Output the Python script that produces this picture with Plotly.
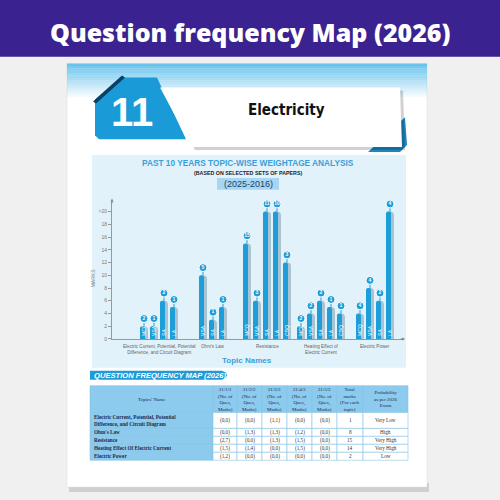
import plotly.graph_objects as go

# ---------------- data ----------------
topics = ["Electric Current, Potential, Potential<br>Difference, and Circuit Diagram",
          "Ohm's Law", "Resistance", "Heating Effect of<br>Electric Current", "Electric Power"]
bar_types = [["MCQ", "VSA", "SA", "LA"],
             ["VSA", "SA", "LA"],
             ["MCQ", "VSA", "SA", "LA", "CBQ"],
             ["MCQ", "VSA", "SA", "LA", "CBQ"],
             ["MCQ", "VSA", "SA", "LA"]]
bar_marks = [[2, 2, 6, 5],
             [10, 3, 5],
             [15, 6, 20, 20, 12],
             [2, 4, 6, 5, 4],
             [4, 8, 6, 20]]
bar_counts = [[2, 1, 2, 1],
              [5, 1, 1],
              [15, 3, 11, 10, 3],
              [2, 2, 2, 1, 1],
              [4, 4, 2, 4]]
y_tick_vals = [0, 2, 4, 6, 8, 10, 12, 14, 16, 18, 20]
y_tick_text = ["0", "2", "4", "6", "8", "10", "12", "14", "16", "18", ">20"]

table_header = ["Topics' Name",
                "31/1/1<br>(No. of<br>Ques,<br>Marks)",
                "31/2/2<br>(No. of<br>Ques,<br>Marks)",
                "31/3/3<br>(No. of<br>Ques,<br>Marks)",
                "31/4/3<br>(No. of<br>Ques,<br>Marks)",
                "31/5/2<br>(No. of<br>Ques,<br>Marks)",
                "Total<br>marks<br>(For each<br>topic)",
                "Probability<br>as per 2026<br>Exam"]
table_topics = ["Electric Current, Potential, Potential<br>Difference, and Circuit Diagram",
                "Ohm's Law", "Resistance", "Heating Effect Of Electric Current", "Electric Power"]
table_papers = [["(0,0)", "(0,0)", "(1,1)", "(0,0)", "(0,0)"],
                ["(0,0)", "(1,3)", "(1,3)", "(1,2)", "(0,0)"],
                ["(2,7)", "(0,0)", "(1,3)", "(1,5)", "(0,0)"],
                ["(1,5)", "(1,4)", "(0,0)", "(1,5)", "(0,0)"],
                ["(1,2)", "(0,0)", "(0,0)", "(0,0)", "(0,0)"]]
table_totals = ["1", "8", "15", "14", "2"]
table_prob = ["Very Low", "High", "Very High", "Very High", "Low"]

# ---------------- layout constants ----------------
GROUP_X0 = [3.2, 9.1, 13.5, 18.9, 24.8]
BAR_STEP = 1.0
BLUE = "#1d9ed9"
GRAYBLUE = "#a9c3d2"


def px(x):
    return x / 500


def py(y):
    return 1 - y / 500


def poly(points):
    return "M " + " L ".join(f"{px(x):.4f},{py(y):.4f}" for x, y in points) + " Z"


shapes = []
ann = []


def rect(x0, y0, x1, y1, fill, line=None, lw=0, layer="below"):
    shapes.append(dict(type="rect", xref="paper", yref="paper", x0=px(x0), x1=px(x1),
                       y0=py(y1), y1=py(y0), fillcolor=fill,
                       line=dict(color=line or fill, width=lw), layer=layer))


def path(points, fill, line=None, lw=0, layer="below"):
    shapes.append(dict(type="path", xref="paper", yref="paper", path=poly(points),
                       fillcolor=fill, line=dict(color=line or fill, width=lw), layer=layer))


def text(x, y, s, size, color, family="Liberation Sans, Arial", weight="normal",
         xanchor="center", yanchor="middle", angle=0, style="normal", align="center"):
    ann.append(dict(x=px(x), y=py(y), xref="paper", yref="paper", text=s, showarrow=False,
                    xanchor=xanchor, yanchor=yanchor, textangle=angle, align=align,
                    font=dict(size=size, color=color, family=family, weight=weight, style=style)))


# header band
rect(0, 0, 500, 57, "#3a2290")
text(250, 32, "Question frequency Map (2026)", 25, "white", family="Open Sans, Lato, Arial", weight=800)

# page
rect(69, 486, 429, 495, "#cfcfcf")
rect(67, 64, 427, 490, "white", line="#dcdcdc", lw=0.5)
n = 14
for i in range(n):
    a = 0.85 * (1 - i / n)
    rect(67, 64 + i * 2.4, 427, 64 + (i + 1) * 2.4, f"rgba(80,185,234,{a:.3f})")

# banner
path([(95, 100), (120, 78), (157, 78), (186, 140), (99, 140), (95, 136)], "#1a9ad6")
path([(93, 102), (122, 76), (125, 78), (96, 104)], "#0d3e63")
path([(368, 153), (405, 118), (407, 146), (400, 153)], "#1b86bf")
path([(163, 91), (403, 91), (405, 151), (195, 151)], "rgba(0,0,0,0.18)")
path([(160, 88), (400, 88), (402, 148), (192, 148)], "white")
text(132, 113, "11", 40, "white", weight="bold")
text(286, 111, "Electricity", 15, "#111111",
     family="Liberation Sans Narrow, DejaVu Sans Condensed, Arial Narrow", weight="bold")

# chart panel
rect(92, 156, 406, 370, "#e2f2fb")
text(248, 164, "PAST 10 YEARS TOPIC-WISE WEIGHTAGE ANALYSIS", 8.3, "#3a9fd8", weight="bold")
text(248, 174, "(BASED ON SELECTED SETS OF PAPERS)", 5.3, "#222222", weight="bold")
rect(217, 179, 279, 191, "#a6d6f1")
text(248, 185.5, "(2025-2016)", 9, "#1d3f6b")
text(93, 280, "MARKS", 5, "#777777", angle=-90)
text(247, 363, "Topic Names", 8, "#3a9fd8", weight="bold")

# question frequency map label
path([(90, 373), (222, 373), (226, 375), (227, 377.5), (226, 380), (222, 382), (90, 382)], "#1f9ad6")
text(92, 378, "QUESTION FREQUENCY MAP (2026)", 7.6, "white", weight="bold", style="italic", xanchor="left")

# table
col_edges = [90, 213, 237, 262, 287, 312, 337, 363, 408]
row_edges = [388, 415, 431, 439, 447, 455, 463]
HEAD = "#8ccbee"
for r in range(len(row_edges) - 1):
    for c in range(len(col_edges) - 1):
        fill = HEAD if (r == 0 or c == 0) else "white"
        rect(col_edges[c], row_edges[r], col_edges[c + 1], row_edges[r + 1], fill, line="#86c2e4", lw=0.6)
SERIF = "Liberation Serif, Times New Roman, serif"
for c, h in enumerate(table_header):
    text((col_edges[c] + col_edges[c + 1]) / 2, (row_edges[0] + row_edges[1]) / 2, h, 5, "#1b2a4a", family=SERIF)
for r in range(len(table_topics)):
    yc = (row_edges[r + 1] + row_edges[r + 2]) / 2
    text(92, yc, table_topics[r], 5.2, "#1b2a4a", family=SERIF, weight="bold", xanchor="left", align="left")
    vals = table_papers[r] + [table_totals[r], table_prob[r]]
    for c, v in enumerate(vals):
        text((col_edges[c + 1] + col_edges[c + 2]) / 2, yc, v, 5.2, "#333333", family=SERIF)

# ---------------- bars ----------------
xs, hs, ts, cs = [], [], [], []
for g in range(len(topics)):
    for i in range(len(bar_marks[g])):
        xs.append(GROUP_X0[g] + i * BAR_STEP)
        hs.append(bar_marks[g][i])
        ts.append(bar_types[g][i])
        cs.append(str(bar_counts[g][i]))

fig = go.Figure()
fig.add_trace(go.Bar(x=xs, y=hs, width=0.8, offset=-0.4,
                     marker=dict(color=GRAYBLUE, cornerradius="50%", line=dict(width=0)), hoverinfo="skip"))
fig.add_trace(go.Bar(x=xs, y=hs, width=0.5, offset=-0.4,
                     marker=dict(color=BLUE, cornerradius="50%", line=dict(width=0)), hoverinfo="skip"))
fig.add_trace(go.Bar(x=xs, y=hs, width=0.8, offset=-0.4, text=ts, textposition="inside",
                     insidetextanchor="start", textangle=-90, constraintext="none",
                     textfont=dict(size=5, color="white", family="Liberation Sans, Arial"),
                     marker=dict(color="rgba(0,0,0,0)", line=dict(width=0))))
fig.add_trace(go.Scatter(x=xs, y=[h + 1.2 for h in hs], mode="markers+text", text=cs,
                         textposition="middle center",
                         textfont=dict(size=5, color="white", family="Liberation Sans, Arial", weight="bold"),
                         marker=dict(size=8, color=BLUE, line=dict(color="white", width=1)),
                         error_y=dict(type="data", symmetric=False, array=[0] * len(hs),
                                      arrayminus=[1.2] * len(hs), color=BLUE, thickness=1, width=0),
                         cliponaxis=False))

for g in range(len(topics)):
    xc = GROUP_X0[g] + (len(bar_marks[g]) - 1) * BAR_STEP / 2
    ann.append(dict(x=xc, y=py(344), xref="x", yref="paper", yanchor="top", text=topics[g],
                    showarrow=False, font=dict(size=4.6, color="#666666", family="Liberation Sans, Arial")))

# axis arrows
ann.append(dict(x=px(405), y=py(341), xref="paper", yref="paper", ax=-6, ay=0, text="",
                showarrow=True, arrowhead=2, arrowsize=0.6, arrowwidth=1, arrowcolor="#888888"))
ann.append(dict(x=px(112), y=py(200), xref="paper", yref="paper", ax=0, ay=6, text="",
                showarrow=True, arrowhead=2, arrowsize=0.6, arrowwidth=1, arrowcolor="#888888"))

fig.update_layout(
    width=500, height=500, autosize=False, margin=dict(l=0, r=0, t=0, b=0),
    paper_bgcolor="#f0f0f0", plot_bgcolor="rgba(0,0,0,0)", showlegend=False,
    barmode="overlay", shapes=shapes, annotations=ann,
    xaxis=dict(domain=[px(112), px(404)], range=[0, 29.2], showgrid=False, zeroline=False,
               showticklabels=False, showline=True, linecolor="#999999", linewidth=1, fixedrange=True),
    yaxis=dict(domain=[py(341), py(202)], range=[0, 21.7], showgrid=False, zeroline=False,
               showline=True, linecolor="#999999", linewidth=1, tickvals=y_tick_vals,
               ticktext=y_tick_text, ticks="outside", ticklen=3, tickcolor="#999999",
               tickfont=dict(size=5, color="#777777", family="Liberation Sans, Arial"), fixedrange=True),
)

fig.write_html("out.html", config={"displayModeBar": False},
               post_script="document.body.style.margin='0px';document.body.style.overflow='hidden';")
